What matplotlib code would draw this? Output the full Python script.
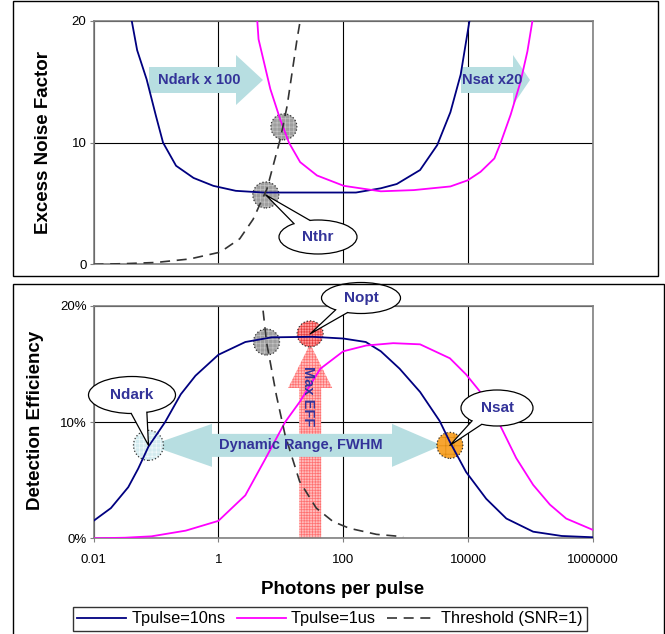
import matplotlib
matplotlib.use("Agg")
import matplotlib.pyplot as plt
from matplotlib.patches import Ellipse, Polygon, Rectangle
from matplotlib.lines import Line2D
from matplotlib.transforms import IdentityTransform
import numpy as np

plt.rcParams['font.family'] = ['Liberation Sans', 'DejaVu Sans']
plt.rcParams['hatch.linewidth'] = 0.5

W, H = 665, 634

# --- DATA: excess noise factor (top panel) ---
enf_10ns_n = [0.038, 0.041, 0.05, 0.071, 0.1, 0.13, 0.21, 0.4, 0.83, 1.9, 5.2, 32, 160,
              400, 720, 1700, 3200, 5200, 7600, 10500, 11200]
enf_10ns = [21.5, 20, 17.6, 15.2, 12.2, 10, 8.1, 7.1, 6.45, 6.04, 5.9, 5.9, 5.9,
            6.25, 6.6, 7.75, 9.8, 12.5, 15.6, 20, 21]

enf_1us_n = [4.0, 4.2, 4.4, 6.8, 9.8, 13.5, 20.4, 38, 102, 400, 1350, 5200, 9800,
             15800, 26300, 33000, 48000, 69000, 89000, 107000, 115000]
enf_1us = [21, 20, 18.5, 14.4, 11.9, 10, 8.4, 7.3, 6.45, 6.0, 6.1, 6.4, 6.9,
           7.6, 8.7, 9.95, 12.3, 15, 17.5, 20, 21]

enf_thr_n = [0.01, 0.03, 0.1, 0.35, 1.07, 2.2, 3.6, 6.0, 9.8, 12.6, 18.2, 20.4, 21.4]
enf_thr = [0, 0.05, 0.15, 0.44, 1.0, 2.1, 3.7, 6.2, 10.3, 13, 18.5, 20, 21]

# --- DATA: detection efficiency (bottom panel) ---
de_10ns_n = [0.01, 0.019, 0.036, 0.052, 0.076, 0.14, 0.25, 0.43, 1, 2.7, 7.1, 32, 100,
             230, 400, 800, 1700, 3500, 5100, 9300, 19500, 41000, 110000, 316000, 1000000]
de_10ns = [1.5, 2.6, 4.4, 6.0, 7.9, 10.0, 12.4, 14.0, 15.8, 16.9, 17.3, 17.35, 17.2,
           16.9, 16.1, 14.6, 12.6, 10.1, 8.3, 5.7, 3.4, 1.7, 0.57, 0.2, 0.09]

de_1us_n = [0.01, 0.032, 0.085, 0.3, 1, 2.7, 5.6, 11.7, 20.4, 43, 100, 234, 630,
            1700, 5100, 9300, 17400, 32000, 59000, 110000, 204000, 372000, 1000000]
de_1us = [0.0, 0.05, 0.17, 0.66, 1.5, 3.7, 6.8, 10, 11.8, 14.6, 16.1, 16.6, 16.8,
          16.7, 15.5, 14.1, 12.3, 9.8, 6.9, 4.6, 2.9, 1.7, 0.72]

de_thr_n = [5.2, 5.9, 8.5, 11.7, 20, 37, 69, 126, 340, 910]
de_thr = [19.6, 16.9, 12.3, 8.9, 4.9, 2.6, 1.43, 0.86, 0.34, 0.14]

# marked points
nthr_top_n = [11.2, 5.75]
nthr_top_v = [11.3, 5.7]
ndark_pt = (0.076, 8.0)
nthr_bot_pt = (5.9, 16.9)
nopt_pt = (29.5, 17.6)
nsat_pt = (5100, 8.0)

xticks = [0.01, 1, 100, 10000, 1000000]
xtick_labels = ["0.01", "1", "100", "10000", "1000000"]
enf_ticks = [0, 10, 20]
de_ticks = [0, 10, 20]
de_tick_labels = ["0%", "10%", "20%"]

NAVY = '#000080'
MAG = '#FF00FF'
THR = '#333333'
CYAN = '#b7dee1'
TXT = '#333399'
ID = IdentityTransform()


def px(x, y):
    # image pixel (top-left origin) -> display coords
    return (x, H - y)


def data_px(ax, x, y):
    dx, dy = ax.transData.transform((x, y))
    return dx, H - dy


fig = plt.figure(figsize=(W / 100, H / 100), dpi=100)
fig.patch.set_facecolor('white')

ax1 = fig.add_axes([93.5 / W, 1 - 264.3 / H, 499.5 / W, 243.3 / H])
ax2 = fig.add_axes([93.5 / W, 1 - 538.3 / H, 499.5 / W, 232.3 / H])

for ax in (ax1, ax2):
    ax.set_xscale('log')
    ax.set_xlim(0.01, 1000000)
    ax.set_xticks(xticks)
    ax.minorticks_off()
    ax.grid(True, color='black', lw=0.8)
    ax.set_axisbelow(True)
    for s in ax.spines.values():
        s.set_color('#808080')
        s.set_linewidth(1.2)
    ax.tick_params(direction='out', length=3, width=0.8, color='#808080',
                   labelsize=9.5, pad=2)

ax1.set_ylim(0, 20)
ax1.set_yticks(enf_ticks)
ax1.set_xticklabels([])
ax1.tick_params(axis='x', length=0)

ax2.set_ylim(0, 20)
ax2.set_yticks(de_ticks)
ax2.set_yticklabels(de_tick_labels)
ax2.set_xticklabels(xtick_labels)
ax2.tick_params(axis='x', pad=8)

# --- curves (drawn over the shapes, as in the original) ---
dash = (0, (6, 4))
ax1.plot(enf_10ns_n, enf_10ns, color=NAVY, lw=1.3, zorder=5)
ax1.plot(enf_1us_n, enf_1us, color=MAG, lw=1.3, zorder=5)
ax1.plot(enf_thr_n, enf_thr, color=THR, lw=1.2, ls=dash, zorder=5)

ax2.plot(de_10ns_n, de_10ns, color=NAVY, lw=1.3, zorder=5)
ax2.plot(de_1us_n, de_1us, color=MAG, lw=1.3, zorder=5)
ax2.plot(de_thr_n, de_thr, color=THR, lw=1.2, ls=dash, zorder=5)


def blob(ax, x, y, diam, fc, hc, hatch):
    s = (diam * 0.72) ** 2
    ax.scatter([x], [y], s=s, marker='o', facecolor=fc, edgecolor=hc, hatch=hatch,
               linewidths=0, zorder=4, clip_on=False)
    ax.scatter([x], [y], s=s, marker='o', facecolor='none', edgecolor='#333333',
               linewidths=0.9, linestyles=':', zorder=4.1, clip_on=False)


def block_arrow(ax, pts, fc, hatch=None, ec='none', z=3):
    poly = Polygon([px(*p) for p in pts], closed=True, transform=ID,
                   facecolor=fc, edgecolor=ec, lw=0, hatch=hatch,
                   zorder=z, clip_on=False)
    ax.add_patch(poly)


def right_arrow(ax, x0, x1, xt, yc, bh, hh):
    pts = [(x0, yc - bh / 2), (x1, yc - bh / 2), (x1, yc - hh / 2), (xt, yc),
           (x1, yc + hh / 2), (x1, yc + bh / 2), (x0, yc + bh / 2)]
    block_arrow(ax, pts, CYAN)


def callout(ax, tip, cx, cy, w, h, a1, a2, label):
    p = []
    for a in (a1, a2):
        r = np.radians(a)
        p.append((cx + w / 2 * np.cos(r), cy - h / 2 * np.sin(r)))
    ax.add_patch(Ellipse(px(cx, cy), w, h, transform=ID, fc='white', ec='black',
                         lw=0.9, zorder=8, clip_on=False))
    ax.add_patch(Polygon([px(*p[0]), px(*tip), px(*p[1]), px(cx, cy)], transform=ID,
                         fc='white', ec='none', zorder=8.5, clip_on=False))
    ln = Line2D([p[0][0], tip[0], p[1][0]], [H - p[0][1], H - tip[1], H - p[1][1]],
                transform=ID, color='black', lw=0.9, zorder=9, clip_on=False)
    ax.add_line(ln)
    ax.text(*px(cx, cy), label, transform=ID, ha='center', va='center', color=TXT,
            fontsize=11, fontweight='bold', zorder=10, clip_on=False)


# --- top panel annotations ---
right_arrow(ax1, 149, 236, 263, 80, 26, 50)
ax1.text(*px(199, 80), "Ndark x 100", transform=ID, ha='center', va='center',
         color=TXT, fontsize=10.5, fontweight='bold', zorder=10)
right_arrow(ax1, 461, 513, 530, 80, 26, 50)
ax1.text(*px(492, 80), "Nsat x20", transform=ID, ha='center', va='center',
         color=TXT, fontsize=10.5, fontweight='bold', zorder=10)

for n, v in zip(nthr_top_n, nthr_top_v):
    blob(ax1, n, v, 26, '#9e9e9e', '#c4c4c4', '++++')

tip = data_px(ax1, nthr_top_n[1], nthr_top_v[1])
callout(ax1, tip, 318, 237, 78, 34, 128, 102, "Nthr")

# --- bottom panel annotations ---
# Max EFF arrow (from the axis up to the Nopt point)
tx, ty = data_px(ax2, *nopt_pt)
ty0 = data_px(ax2, nopt_pt[0], 0)[1]
block_arrow(ax2, [(tx - 11, ty0), (tx - 11, 388), (tx - 22, 388), (tx, ty + 10),
                  (tx + 22, 388), (tx + 11, 388), (tx + 11, ty0)],
            '#ffbcbc', hatch='++++++', ec='#ff7070', z=2.5)

# dynamic range double arrow between Ndark and Nsat
lx, ly = data_px(ax2, *ndark_pt)
rx, ry = data_px(ax2, *nsat_pt)
yc = (ly + ry) / 2
block_arrow(ax2, [(lx + 2, yc), (212, yc - 21.5), (212, yc - 11.5), (392, yc - 11.5),
                  (392, yc - 21.5), (rx - 8, yc), (392, yc + 21.5), (392, yc + 11.5),
                  (212, yc + 11.5), (212, yc + 21.5)], CYAN, z=3)
ax2.text(*px(301, yc), "Dynamic Range, FWHM", transform=ID, ha='center', va='center',
         color=TXT, fontsize=10.5, fontweight='bold', zorder=10)
ax2.text(*px(tx - 2, 396), "Max EFF", transform=ID, ha='center', va='center',
         rotation=-90, color=TXT, fontsize=10.5, fontweight='bold', zorder=10)

blob(ax2, *ndark_pt, 30, '#d3ebef', '#f2fafb', '++++')
blob(ax2, *nthr_bot_pt, 26, '#9e9e9e', '#c4c4c4', '++++')
blob(ax2, *nopt_pt, 26, '#ff9a9a', '#e84040', '++++++')
blob(ax2, *nsat_pt, 26, '#f7a531', '#e08a10', '++')

callout(ax2, data_px(ax2, *ndark_pt), 132, 395, 87, 37, -91, -70, "Ndark")
callout(ax2, data_px(ax2, *nopt_pt), 361, 298, 79, 31, -130, -110, "Nopt")
callout(ax2, data_px(ax2, *nsat_pt), 497, 408, 72, 36, -134, -115, "Nsat")

# --- axis labels ---
fig.text(*px(44, 142), "Excess Noise Factor", transform=ID, rotation=90,
         ha='center', va='center', fontsize=13.5, fontweight='bold')
fig.text(*px(36, 420), "Detection Efficiency", transform=ID, rotation=90,
         ha='center', va='center', fontsize=13.5, fontweight='bold')
fig.text(*px(343, 589), "Photons per pulse", transform=ID,
         ha='center', va='center', fontsize=13.5, fontweight='bold')

# --- panel frames ---
fig.add_artist(Rectangle(px(13, 276), 645, 275, transform=ID, fill=False,
                         ec='black', lw=1.0))
fig.add_artist(Rectangle(px(13, 640), 651, 356, transform=ID, fill=False,
                         ec='black', lw=1.0))

# --- legend ---
handles = [Line2D([], [], color=NAVY, lw=1.3),
           Line2D([], [], color=MAG, lw=1.3),
           Line2D([], [], color=THR, lw=1.2, ls=dash)]
labels = ["Tpulse=10ns", "Tpulse=1us", "Threshold (SNR=1)"]
leg = fig.legend(handles, labels, loc='center', bbox_to_anchor=(330 / W, 1 - 619 / H),
                 ncol=3, fontsize=11.8, frameon=True, fancybox=False, handlelength=3.0,
                 handletextpad=0.3, columnspacing=0.7, borderpad=0.25, borderaxespad=0)
leg.get_frame().set_edgecolor('black')
leg.get_frame().set_linewidth(1.0)

fig.savefig('out.png', dpi=100)
